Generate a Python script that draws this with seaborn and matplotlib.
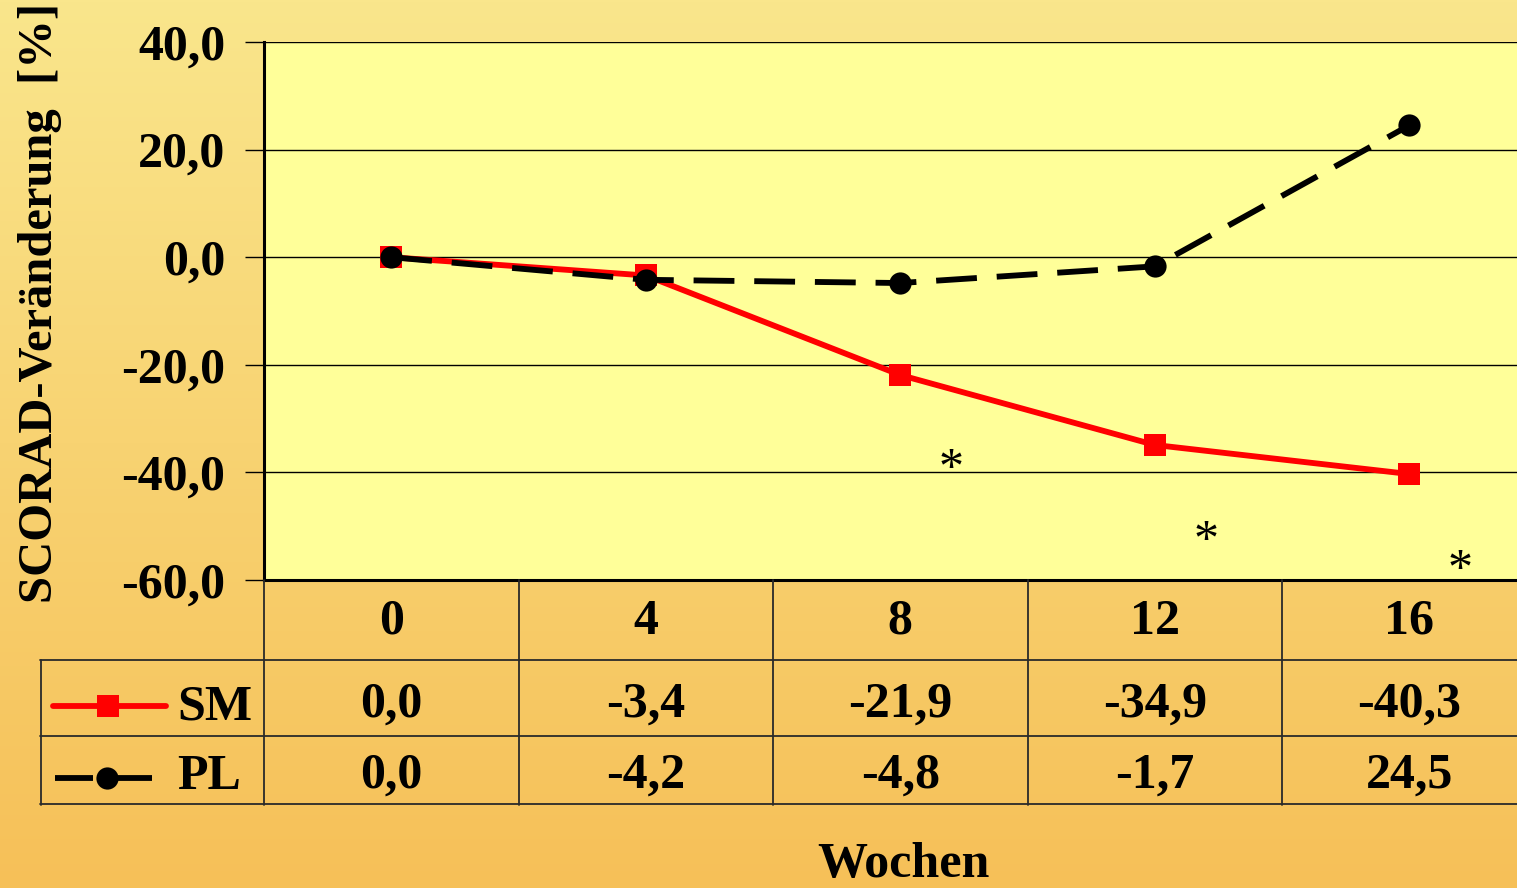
import numpy as np
import pandas as pd
import matplotlib
matplotlib.use("Agg")
import matplotlib.pyplot as plt
from matplotlib.lines import Line2D
import seaborn as sns

# ---------------- data ----------------
weeks = ["0", "4", "8", "12", "16"]
sm_values = [0.0, -3.4, -21.9, -34.9, -40.3]
pl_values = [0.0, -4.2, -4.8, -1.7, 24.5]
sm_labels = ["0,0", "-3,4", "-21,9", "-34,9", "-40,3"]
pl_labels = ["0,0", "-4,2", "-4,8", "-1,7", "24,5"]
series_names = ["SM", "PL"]
y_ticks = [-60, -40, -20, 0, 20, 40]
y_ticklabels = ["-60,0", "-40,0", "-20,0", "0,0", "20,0", "40,0"]
star_x = [2.2, 3.2, 4.2]
star_y = [-39.6, -52.8, -58.2]
y_label = "SCORAD-Veränderung  [%]"
x_label = "Wochen"

# ---------------- setup ----------------
sns.set_theme(style="white")
plt.rcParams["font.family"] = ["Liberation Serif", "DejaVu Serif"]
plt.rcParams["font.weight"] = "bold"
plt.rcParams["text.color"] = "black"
plt.rcParams["ytick.color"] = "black"
plt.rcParams["ytick.labelcolor"] = "black"

W, H = 1517, 888
fig = plt.figure(figsize=(W / 100, H / 100), dpi=100)

# gradient background
bg = fig.add_axes([0, 0, 1, 1], zorder=-10)
top = np.array([250, 230, 140]) / 255
bot = np.array([246, 192, 88]) / 255
t = np.linspace(0, 1, 256)[:, None]
grad = (top[None, :] * (1 - t) + bot[None, :] * t)[:, None, :]
bg.imshow(grad, aspect="auto", extent=[0, 1, 0, 1])
bg.axis("off")

FS = 36
cell_w = 254.5
x_left_px, x_right_px = 264, 264 + 5 * cell_w
ax = fig.add_axes([x_left_px / W, 1 - 580 / H, (x_right_px - x_left_px) / W, 538 / H])
ax.set_facecolor("#FFFF99")

pos = np.arange(len(weeks))
df = pd.DataFrame({
    "pos": np.concatenate([pos, pos]),
    "val": sm_values + pl_values,
    "series": [series_names[0]] * len(pos) + [series_names[1]] * len(pos),
})

LW = 4.2
MS = 16
sns.lineplot(data=df[df.series == "SM"], x="pos", y="val", ax=ax, color="#FF0000",
             lw=LW, marker="s", markersize=MS, markeredgewidth=0, legend=False, zorder=3)
sns.lineplot(data=df[df.series == "PL"], x="pos", y="val", ax=ax, color="black",
             lw=LW, marker="o", markersize=MS, markeredgewidth=0, legend=False, zorder=4)
ax.lines[-1].set_dashes([7, 3.4])

ax.set_xlim(-0.5, 4.5)
ax.set_ylim(-60, 40)
ax.set_yticks(y_ticks)
ax.set_yticklabels(y_ticklabels, fontsize=FS, fontweight="bold", color="black")
ax.set_xticks([])
ax.set_xlabel("")
ax.set_ylabel("")
ax.tick_params(axis="y", direction="out", length=14, width=1, color="black", pad=14, left=True)
for yv in y_ticks[1:]:
    ax.axhline(yv, color="black", lw=1, zorder=1)
for s in ["top", "right"]:
    ax.spines[s].set_visible(False)
ax.spines["left"].set_color("black")
ax.spines["left"].set_linewidth(2.2)
ax.spines["bottom"].set_color("black")
ax.spines["bottom"].set_linewidth(2.2)

for sx, sy in zip(star_x, star_y):
    ax.text(sx, sy, "*", fontsize=36, fontweight="normal", ha="center", va="center",
            color="black")

# ---------------- data table ----------------
tx_left = -0.5 - (264 - 40) / cell_w
tax = fig.add_axes([40 / W, 1 - 805 / H, (x_right_px - 40) / W, 225 / H], zorder=2)
tax.set_xlim(tx_left, 4.5)
tax.set_ylim(805, 580)
tax.axis("off")
tax.patch.set_alpha(0)

def px2x(px):
    return -0.5 + (px - 264) / cell_w

lc = "#2a2a2a"
for yy in [660, 736, 804]:
    tax.plot([tx_left, 4.5], [yy, yy], color=lc, lw=1.3, clip_on=False)
tax.plot([tx_left + 0.002, tx_left + 0.002], [660, 805], color=lc, lw=1.3, clip_on=False)
for b in np.arange(-0.5, 4.0, 1.0):
    tax.plot([b, b], [580, 805], color=lc, lw=1.3, clip_on=False)

for i, w in enumerate(weeks):
    tax.text(i, 622, w, fontsize=FS, fontweight="bold", ha="center", va="center")
    tax.text(i, 705, sm_labels[i], fontsize=FS, fontweight="bold", ha="center", va="center")
    tax.text(i, 776, pl_labels[i], fontsize=FS, fontweight="bold", ha="center", va="center")

# legend keys
tax.add_line(Line2D([px2x(53), px2x(166)], [706, 706], color="#FF0000", lw=LW,
                    solid_capstyle="round"))
tax.add_line(Line2D([px2x(108)], [706], color="#FF0000", marker="s", markersize=MS, mew=0))
tax.add_line(Line2D([px2x(55), px2x(93)], [778, 778], color="black", lw=LW,
                    solid_capstyle="butt"))
tax.add_line(Line2D([px2x(118), px2x(152)], [778, 778], color="black", lw=LW,
                    solid_capstyle="butt"))
tax.add_line(Line2D([px2x(107)], [778], color="black", marker="o", markersize=MS, mew=0))
tax.text(px2x(177), 707, series_names[0], fontsize=FS, fontweight="bold", ha="left", va="center")
tax.text(px2x(177), 777, series_names[1], fontsize=FS, fontweight="bold", ha="left", va="center")

# axis titles
fig.text(40 / W, 1 - 303 / H, y_label, rotation=90, fontsize=35, fontweight="bold",
         ha="center", va="center")
fig.text(903 / W, 1 - 877 / H, x_label, fontsize=FS, fontweight="bold", ha="center",
         va="baseline")

fig.savefig("out.png", dpi=100)
